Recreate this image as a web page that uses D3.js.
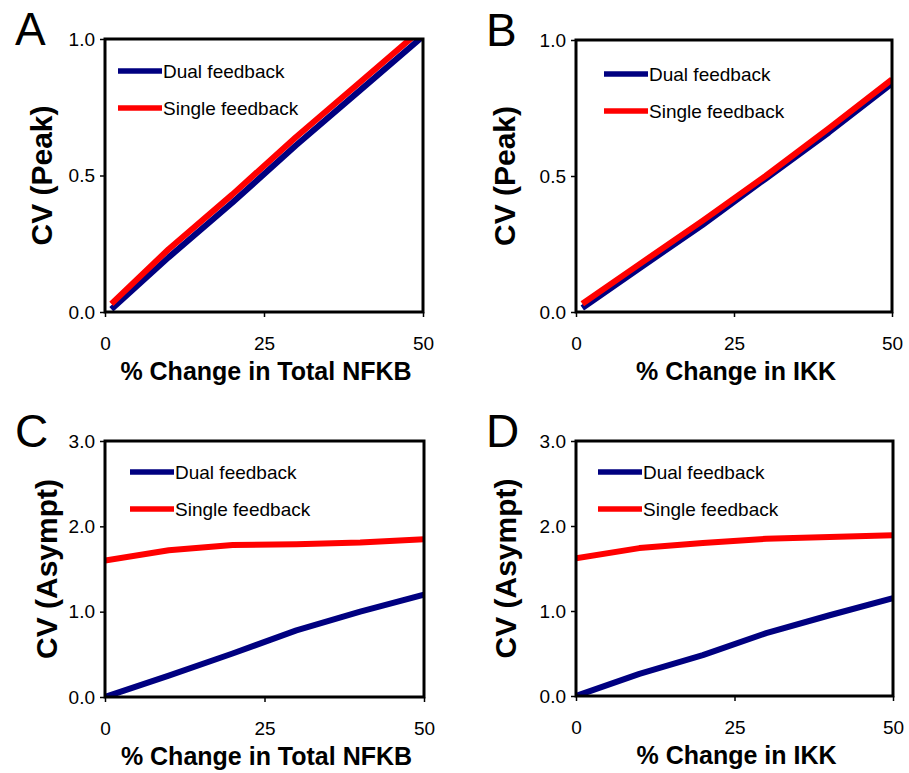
<!DOCTYPE html>
<html>
<head>
<meta charset="utf-8">
<script src="https://cdn.jsdelivr.net/npm/d3@7"></script>
<style>
  body { margin: 0; background: #fff; }
  svg { display: block; }
</style>
</head>
<body>
<svg id="fig" width="909" height="773"></svg>
<script>
// values
var xPeak = [1, 10, 20, 30, 40, 50]
var xAsym = [0, 10, 20, 30, 40, 50]
var dualA = [0.01, 0.20, 0.40, 0.61, 0.81, 1.01]
var singleA = [0.03, 0.23, 0.43, 0.64, 0.84, 1.04]
var dualB = [0.015, 0.16, 0.32, 0.49, 0.66, 0.84]
var singleB = [0.03, 0.175, 0.335, 0.50, 0.675, 0.855]
var dualC = [0.0, 0.25, 0.51, 0.78, 1.0, 1.20]
var singleC = [1.60, 1.72, 1.78, 1.79, 1.81, 1.85]
var dualD = [0.0, 0.26, 0.48, 0.74, 0.95, 1.15]
var singleD = [1.62, 1.74, 1.80, 1.85, 1.87, 1.89]
var xTicks = [0, 25, 50]
var peakTicks = [0, 0.5, 1.0]
var asymTicks = [0, 1, 2, 3]
var seriesNames = ["Dual feedback", "Single feedback"]
var seriesColors = ["#000080", "#ff0000"]

var svg = d3.select("#fig")
var font = "'Liberation Sans', Arial, sans-serif"

var panels = [
  {letter: "A", left: 105, top: 39, w: 318, h: 273, x: xPeak, dual: dualA, single: singleA,
   ymax: 1.0, yticks: peakTicks, ylab: "CV (Peak)", xlab: "% Change in Total NFKB", leg: [13, 32], ytx: -63},
  {letter: "B", left: 576, top: 40, w: 316, h: 272, x: xPeak, dual: dualB, single: singleB,
   ymax: 1.0, yticks: peakTicks, ylab: "CV (Peak)", xlab: "% Change in IKK", leg: [28, 34], ytx: -71},
  {letter: "C", left: 105, top: 441, w: 319, h: 256, x: xAsym, dual: dualC, single: singleC,
   ymax: 3.0, yticks: asymTicks, ylab: "CV (Asympt)", xlab: "% Change in Total NFKB", leg: [25, 31], ytx: -58},
  {letter: "D", left: 576, top: 441, w: 317, h: 255, x: xAsym, dual: dualD, single: singleD,
   ymax: 3.0, yticks: asymTicks, ylab: "CV (Asympt)", xlab: "% Change in IKK", leg: [22, 31], ytx: -70}
]

panels.forEach(function(p, i){
  var g = svg.append("g").attr("transform", "translate(" + p.left + "," + p.top + ")")
  var xScale = d3.scaleLinear().domain([0, 50]).range([0, p.w])
  var yScale = d3.scaleLinear().domain([0, p.ymax]).range([p.h, 0])

  // panel letter
  svg.append("text")
    .attr("x", p.left - 90).attr("y", p.top + 6)
    .attr("font-family", font)
    .attr("font-size", 46)
    .text(p.letter)

  g.append("clipPath").attr("id", "clip" + i)
    .append("rect").attr("width", p.w).attr("height", p.h)

  var yAxis = g.append("g")
    .call(d3.axisLeft(yScale).tickValues(p.yticks).tickSize(5).tickPadding(5).tickFormat(d3.format(".1f")))
  var xAxis = g.append("g").attr("transform", "translate(0," + p.h + ")")
    .call(d3.axisBottom(xScale).tickValues(xTicks).tickSize(5).tickPadding(20).tickFormat(d3.format("d")))
  ;[yAxis, xAxis].forEach(function(a){
    a.select(".domain").remove()
    a.selectAll("line").attr("stroke", "#000").attr("stroke-width", 1.5)
    a.selectAll("text").attr("font-family", font).attr("font-size", 19).attr("fill", "#000")
  })

  var line = d3.line()
    .x(function(d){ return xScale(d[0]) })
    .y(function(d){ return yScale(d[1]) })

  var series = [p.dual, p.single]
  series.forEach(function(vals, k){
    g.append("path")
      .datum(vals.map(function(v, j){ return [p.x[j], v] }))
      .attr("clip-path", "url(#clip" + i + ")")
      .attr("d", line)
      .attr("fill", "none")
      .attr("stroke", seriesColors[k])
      .attr("stroke-width", 6)
      .attr("stroke-linejoin", "round")
  })

  // plot frame
  g.append("rect").attr("width", p.w).attr("height", p.h)
    .attr("fill", "none").attr("stroke", "#000").attr("stroke-width", 3)

  // legend
  seriesNames.forEach(function(name, k){
    var ly = p.leg[1] + k * 37
    g.append("line")
      .attr("x1", p.leg[0]).attr("x2", p.leg[0] + 44)
      .attr("y1", ly).attr("y2", ly)
      .attr("stroke", seriesColors[k]).attr("stroke-width", 5.5)
    g.append("text")
      .attr("x", p.leg[0] + 45).attr("y", ly + 7)
      .attr("font-family", font).attr("font-size", 19)
      .text(name)
  })

  // axis titles
  g.append("text")
    .attr("x", p.w / 2 + 2).attr("y", p.h + 68)
    .attr("text-anchor", "middle")
    .attr("font-family", font).attr("font-weight", "bold").attr("font-size", 25)
    .text(p.xlab)
  g.append("text")
    .attr("transform", "translate(" + (p.ytx + 10) + "," + (p.h / 2) + ") rotate(-90)")
    .attr("text-anchor", "middle")
    .attr("font-family", font).attr("font-weight", "bold").attr("font-size", 30)
    .text(p.ylab)
})
</script>
</body>
</html>
